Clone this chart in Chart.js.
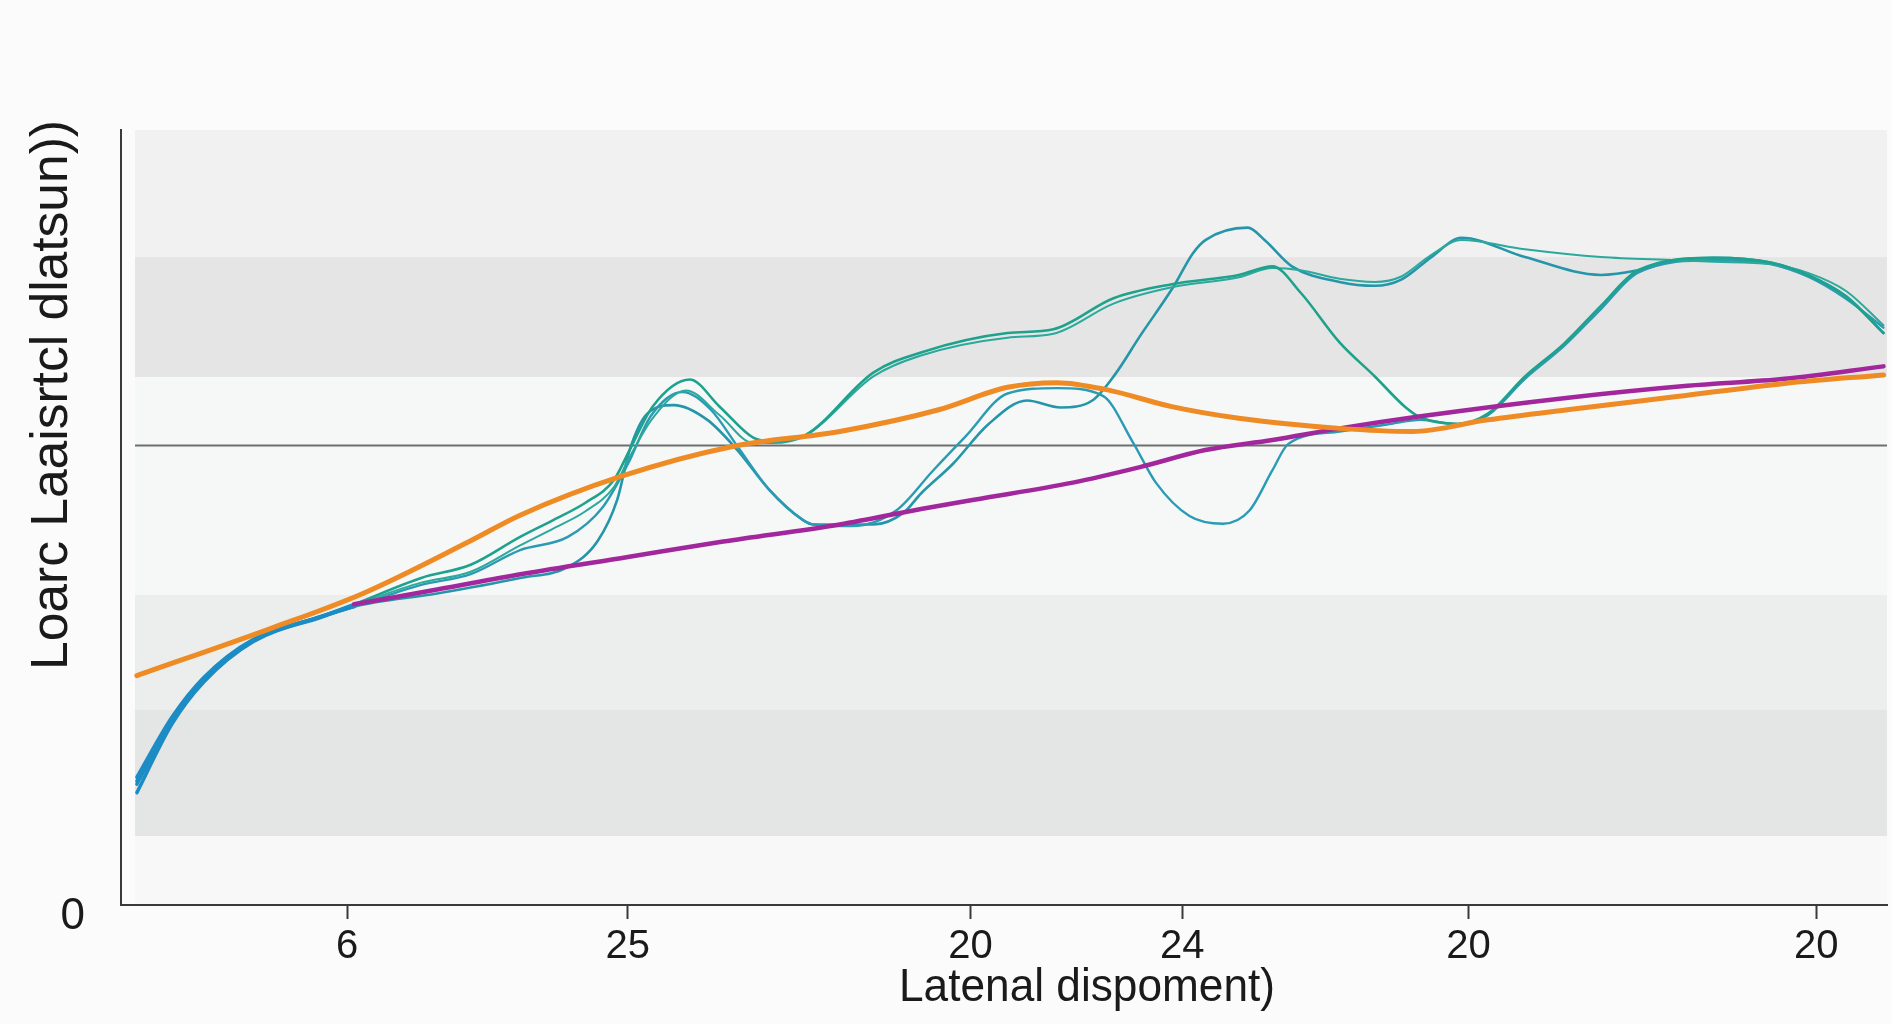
<!DOCTYPE html>
<html>
<head>
<meta charset="utf-8">
<script src="https://cdn.jsdelivr.net/npm/chart.js@4.4.1/dist/chart.umd.min.js"></script>
<style>
  html, body { margin: 0; padding: 0; background: #fbfbfb; }
  #wrap { width: 1891px; height: 1024px; position: relative; }
</style>
</head>
<body>
<div id="wrap"><canvas id="myChart"></canvas></div>
<script>
// x tick positions and their (odd) labels
const tickPos = [12.8, 28.7, 48.1, 60.1, 76.3, 96.0];
const tickLabels = ['6', '25', '20', '24', '20', '20'];

const orangeX = [0.9, 8.5, 13.7, 19.8, 22.6, 28.3, 34.7, 40.7, 46.3, 50.2, 53.0, 55.8, 59.5, 63.3, 69.0, 73.1, 77.4, 81.9, 88.1, 94.2, 99.8];
const orangeY = [29.6, 35.7, 40.2, 47.0, 50.3, 55.3, 59.2, 61.1, 63.9, 66.8, 67.4, 66.5, 64.3, 62.8, 61.5, 61.1, 62.6, 63.9, 65.6, 67.3, 68.4];

const purpleX = [13.2, 17.9, 22.7, 28.7, 34.1, 40.7, 45.3, 48.3, 53.9, 57.7, 61.4, 65.2, 69.0, 73.7, 81.7, 88.7, 94.2, 99.8];
const purpleY = [38.8, 40.7, 42.7, 44.9, 46.9, 49.1, 51.1, 52.3, 54.5, 56.5, 58.7, 60.0, 61.5, 63.1, 65.4, 67.0, 67.9, 69.5];

const upperX = [0.9, 2.9, 4.7, 7.5, 11.3, 13.2, 17.0, 19.8, 22.6, 24.5, 26.3, 27.9, 28.8, 30.1, 32.2, 33.9, 35.8, 36.9, 38.8, 42.6, 45.3, 50.2, 52.8, 56.2, 59.5, 63.3, 65.2, 66.8, 69.0, 71.0, 72.7, 73.6, 75.7, 77.4, 79.5, 81.7, 83.8, 85.9, 90.2, 93.4, 95.6, 97.7, 99.8];
const upperY = [16.5, 24.3, 29.4, 34.3, 37.2, 38.8, 42.2, 43.9, 47.5, 49.7, 51.9, 54.8, 58.7, 64.3, 67.8, 64.3, 60.3, 59.8, 60.7, 68.7, 71.3, 73.8, 74.3, 78.3, 80.1, 81.3, 82.4, 79.0, 72.6, 68.2, 64.3, 62.9, 62.1, 63.4, 68.2, 72.4, 77.3, 81.9, 83.5, 82.9, 81.2, 78.5, 73.8];

const upper2X = [0.9, 2.9, 4.7, 7.5, 11.3, 13.2, 17.0, 19.8, 22.6, 24.5, 26.3, 27.9, 28.8, 30.1, 32.0, 33.9, 35.8, 36.9, 38.8, 42.6, 45.3, 50.2, 52.8, 56.2, 59.5, 63.3, 65.2, 66.8, 69.0, 71.0, 72.5, 74.2, 75.9, 79.5, 83.8, 88.1, 90.2, 93.4, 95.6, 97.7, 99.8];
const upper2Y = [16.0, 24.0, 29.2, 34.2, 37.2, 38.7, 41.6, 43.0, 46.4, 48.6, 50.8, 53.9, 57.8, 62.8, 66.4, 63.2, 59.6, 59.6, 60.6, 68.2, 70.9, 73.2, 73.7, 77.6, 79.7, 81.0, 82.2, 81.9, 80.8, 80.4, 81.1, 83.9, 85.8, 84.6, 83.6, 83.2, 83.0, 82.7, 81.5, 79.2, 74.8];

const waveX = [0.9, 2.9, 4.7, 7.5, 11.3, 13.2, 17.0, 19.8, 22.6, 25.3, 27.3, 28.7, 30.0, 31.8, 33.4, 34.9, 36.7, 38.6, 39.2, 41.4, 43.9, 46.0, 47.8, 50.2, 53.0, 55.6, 57.3, 58.6, 60.5, 62.4, 63.9, 65.2, 66.1, 69.0, 71.7, 73.6, 75.7, 77.4, 79.5, 81.7, 83.8, 85.9, 90.2, 93.4, 95.6, 97.7, 99.8];
const waveY = [15.6, 23.8, 29.1, 34.1, 37.2, 38.5, 41.3, 42.7, 45.8, 47.5, 51.4, 56.9, 63.1, 66.2, 63.9, 59.2, 53.6, 49.7, 49.1, 48.9, 50.9, 56.1, 60.4, 66.0, 66.7, 65.7, 59.7, 54.5, 50.2, 49.2, 50.9, 56.1, 59.5, 61.1, 62.0, 62.6, 62.0, 63.2, 67.9, 72.1, 76.9, 81.6, 83.2, 82.7, 81.0, 78.2, 74.5];

const peakX = [0.9, 2.9, 4.7, 7.5, 11.3, 13.2, 17.9, 22.6, 25.3, 27.0, 28.1, 28.8, 29.8, 31.3, 33.2, 34.9, 36.7, 38.6, 39.2, 41.4, 42.6, 44.3, 45.3, 47.1, 49.1, 51.3, 53.2, 55.0, 56.3, 57.7, 59.6, 60.7, 61.4, 63.8, 64.8, 66.3, 69.0, 71.0, 72.5, 74.2, 75.9, 79.5, 83.8, 85.9, 88.1, 90.2, 93.4, 95.6, 97.7, 99.8];
const peakY = [14.5, 23.4, 28.8, 34.0, 37.1, 38.5, 40.2, 42.2, 43.6, 47.0, 52.3, 58.7, 63.4, 64.5, 62.6, 58.7, 53.6, 49.7, 49.1, 49.1, 49.1, 50.6, 53.1, 56.9, 62.0, 65.1, 64.2, 65.1, 68.5, 73.4, 79.8, 84.1, 85.8, 87.4, 85.7, 82.4, 80.4, 79.9, 80.7, 83.6, 86.1, 83.6, 81.3, 81.9, 83.2, 83.5, 82.9, 81.2, 78.5, 73.8];

// background bands (y edges, top to bottom) and the grey reference line
const bandEdges = [100, 83.6, 68.1, 40.0, 25.2, 8.9, 0];
const bandColors = ['#f1f1f1', '#e5e5e5', '#f6f8f8', '#eceeee', '#e4e5e5', '#f8f8f8'];
const refLine = 59.3;

const pts = (xs, ys) => xs.map((x, i) => ({x: x, y: ys[i]}));

const blue = '#1b8cc4';
const tealLine = (label, xs, ys, color, width) => ({
    label: label,
    data: pts(xs, ys),
    borderColor: color,
    borderWidth: width,
    order: 3,
    segment: {
        borderColor: c => c.p0.parsed.x < 13 ? blue : undefined,
        borderWidth: c => c.p0.parsed.x < 13 ? 3.5 : undefined
    }
});

// draw text squeezed to a given width (the reference lettering is condensed)
function fitText(ctx, text, x, y, width, angle) {
    const w = ctx.measureText(text).width;
    ctx.save();
    ctx.translate(x, y);
    ctx.rotate(angle);
    ctx.scale(width / w, 1);
    ctx.fillText(text, 0, 0);
    ctx.restore();
}

const bands = {
    id: 'bands',
    beforeDraw(chart) {
        const {ctx, chartArea, scales: {x, y}} = chart;
        ctx.save();
        ctx.fillStyle = '#fbfbfb';
        ctx.fillRect(0, 0, chart.width, chart.height);
        const left = chartArea.left + 14;
        for (let i = 0; i < bandColors.length; i++) {
            const top = y.getPixelForValue(bandEdges[i]);
            const bottom = y.getPixelForValue(bandEdges[i + 1]);
            ctx.fillStyle = bandColors[i];
            ctx.fillRect(left, top, chartArea.right - left, bottom - top);
        }
        const yl = y.getPixelForValue(refLine);
        ctx.strokeStyle = '#6e6e6e';
        ctx.lineWidth = 2;
        ctx.beginPath();
        ctx.moveTo(left, yl);
        ctx.lineTo(chartArea.right, yl);
        ctx.stroke();
        ctx.restore();
    },
    afterDraw(chart) {
        const ctx = chart.ctx;
        ctx.save();
        ctx.fillStyle = '#1a1a1a';
        ctx.textAlign = 'center';
        ctx.textBaseline = 'middle';
        ctx.font = '46px "Liberation Sans", Arial, sans-serif';
        fitText(ctx, 'Latenal dispoment)', 1087, 988, 376, 0);
        ctx.font = '52px "Liberation Sans", Arial, sans-serif';
        fitText(ctx, 'Loarc Laaisrtcl dlatsun))', 53, 395, 550, -Math.PI / 2);
        ctx.restore();
    }
};

const data = {
    datasets: [
        {
            label: 'orange',
            data: pts(orangeX, orangeY),
            borderColor: '#ee8b25',
            borderWidth: 5,
            order: 0
        },
        {
            label: 'purple',
            data: pts(purpleX, purpleY),
            borderColor: '#a2279c',
            borderWidth: 4.5,
            order: 1
        },
        tealLine('upper', upperX, upperY, '#1fa28b', 2.6),
        tealLine('upper2', upper2X, upper2Y, '#2aa99c', 2),
        tealLine('wave', waveX, waveY, '#2b9bb3', 2.4),
        tealLine('peak', peakX, peakY, '#2596a9', 2.6)
    ]
};

const config = {
    type: 'line',
    data: data,
    plugins: [bands],
    options: {
        responsive: true,
        maintainAspectRatio: false,
        animation: false,
        layout: { padding: { top: 130, right: 4, left: 0, bottom: 0 } },
        elements: {
            point: { radius: 0 },
            line: { cubicInterpolationMode: 'monotone', borderCapStyle: 'round', borderJoinStyle: 'round' }
        },
        plugins: { legend: { display: false }, tooltip: { enabled: false } },
        scales: {
            x: {
                type: 'linear',
                min: 0,
                max: 100,
                afterFit: s => { s.height = 119; },
                afterBuildTicks: s => { s.ticks = tickPos.map(v => ({value: v})); },
                border: { color: '#3a3a3a', width: 2 },
                grid: { drawOnChartArea: false, tickLength: 14, tickColor: '#3a3a3a', tickWidth: 2 },
                ticks: {
                    color: '#1a1a1a',
                    padding: 4,
                    maxRotation: 0,
                    autoSkip: false,
                    font: { family: '"Liberation Sans", Arial, sans-serif', size: 40 },
                    callback: (v, i) => tickLabels[i]
                }
            },
            y: {
                min: 0,
                max: 100,
                afterFit: s => { s.width = 121; },
                afterBuildTicks: s => { s.ticks = [{value: 0}]; },
                border: { color: '#3a3a3a', width: 2 },
                grid: { drawOnChartArea: false, drawTicks: false, tickLength: 0 },
                ticks: {
                    color: '#1a1a1a',
                    padding: 36,
                    labelOffset: 12,
                    font: { family: '"Liberation Sans", Arial, sans-serif', size: 44 },
                    callback: () => '0'
                }
            }
        }
    }
};

Chart.defaults.color = '#1a1a1a';

const ctx = document.getElementById('myChart');
const chart = new Chart(ctx, config);
</script>
</body>
</html>
